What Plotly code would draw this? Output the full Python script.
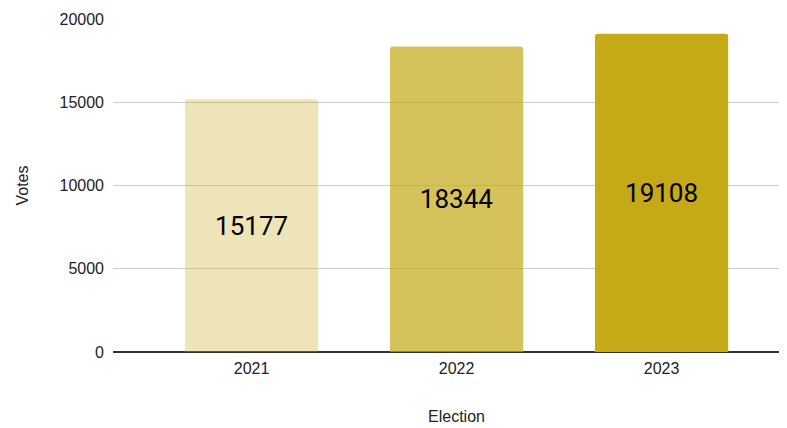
import plotly.graph_objects as go

categories = ["2021", "2022", "2023"]
votes = [15177, 18344, 19108]
colors = ["rgba(197,169,22,0.31)", "rgba(197,169,22,0.71)", "rgba(197,169,22,1)"]
y_ticks = [0, 5000, 10000, 15000, 20000]

fig = go.Figure(go.Bar(
    x=categories, y=votes,
    marker=dict(color=colors, line=dict(width=0), cornerradius=3),
    text=[str(v) for v in votes],
    textposition="inside", insidetextanchor="middle",
    textfont=dict(family="Roboto", size=26, color="#000000"),
    width=0.65,
))

fig.update_layout(
    width=779, height=420,
    margin=dict(l=105, r=0, t=11, b=76),
    paper_bgcolor="white", plot_bgcolor="white",
    font=dict(family="Liberation Sans, Arial", size=16, color="#222222"),
    showlegend=False,
    annotations=[dict(
        text="Election", x=1, xref="x", y=0, yref="paper",
        yshift=-54, yanchor="top", showarrow=False,
        font=dict(size=16, color="#222222"),
    )],
)
fig.update_xaxes(
    type="category", range=[-0.676, 2.612],
    showgrid=False, showline=False, zeroline=False,
    ticks="", ticklabelstandoff=5,
    tickfont=dict(size=16, color="#222222"),
)
fig.update_yaxes(
    range=[0, 20000], tickvals=y_ticks, ticktext=[str(t) for t in y_ticks],
    showgrid=True, gridcolor="#cccccc", gridwidth=1,
    zeroline=True, zerolinecolor="#333333", zerolinewidth=1.5,
    showline=False, ticks="", ticklabelstandoff=8,
    tickfont=dict(size=16, color="#222222"),
    title=dict(text="Votes", standoff=26, font=dict(size=16, color="#222222")),
)

fig.write_html("out.html")
